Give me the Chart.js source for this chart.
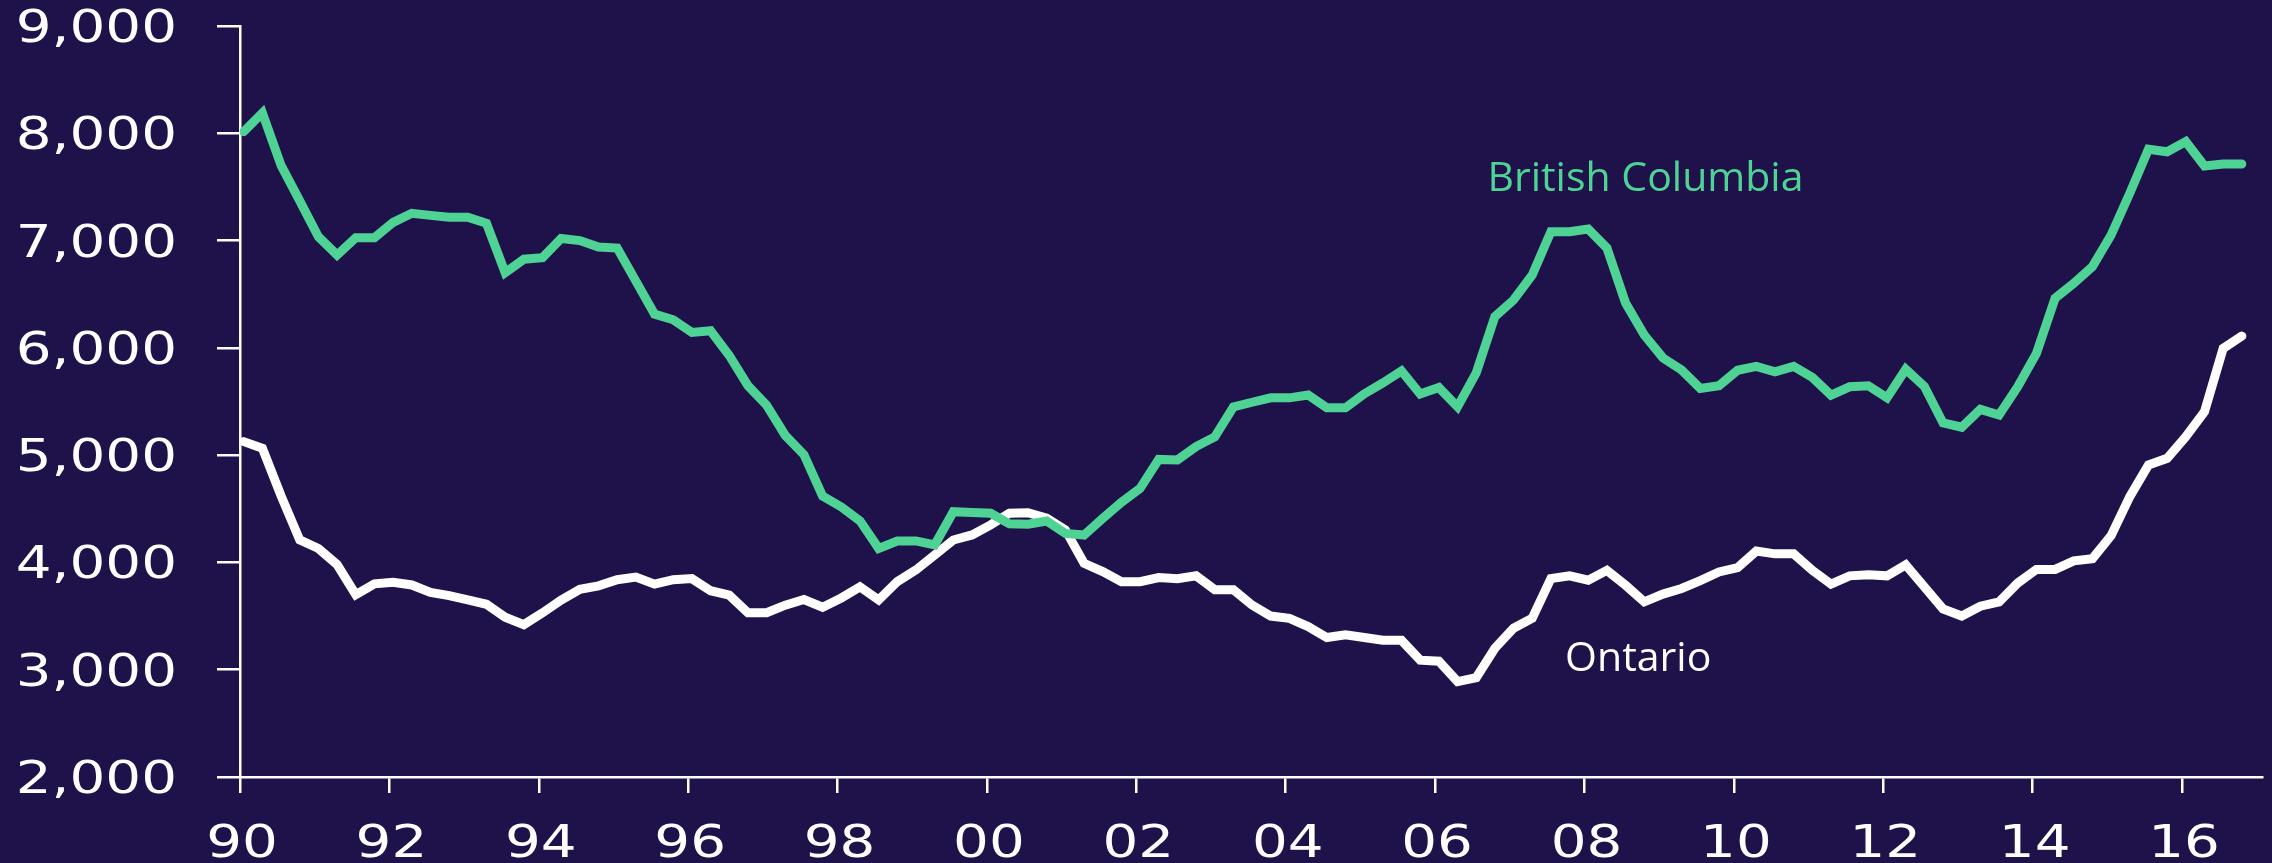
<!DOCTYPE html>
<html>
<head>
<meta charset="utf-8">
<script src="https://cdn.jsdelivr.net/npm/chart.js@4.4.1/dist/chart.umd.min.js"></script>
<style>
  html, body { margin: 0; padding: 0; background: #1F114A; overflow: hidden; }
  canvas { display: block; background: #1F114A; }
</style>
</head>
<body>
<canvas id="chart" width="2272" height="863"></canvas>
<script>
// ---- Data (quarterly, 1990Q1 .. 2016Q4) ----
const startYear = 1990;
const seriesNames = ['British Columbia', 'Ontario'];

const britishColumbia = [
  8015, 8190, 7700, 7370, 7036, 6866, 7027, 7027, 7170, 7254,
  7235, 7217, 7217, 7161, 6701, 6826, 6840, 7020, 7000, 6940,
  6930, 6622, 6314, 6262, 6144, 6160, 5929, 5647, 5466, 5184,
  5004, 4619, 4517, 4388, 4131, 4200, 4200, 4163, 4473, 4465,
  4458, 4360, 4356, 4386, 4270, 4255, 4410, 4560, 4690, 4960,
  4955, 5080, 5170, 5450, 5493, 5534, 5534, 5560, 5441, 5441,
  5570, 5673, 5785, 5570, 5630, 5450, 5766, 6291, 6446, 6679,
  7083, 7083, 7108, 6931, 6418, 6120, 5906, 5794, 5621, 5647,
  5791, 5827, 5776, 5827, 5724, 5560, 5637, 5647, 5534, 5801,
  5640, 5300, 5260, 5427, 5374, 5638, 5949, 6462, 6602, 6757,
  7052, 7441, 7851, 7828, 7922, 7695, 7714, 7714
];

const ontario = [
  5126, 5064, 4620, 4210, 4130, 3980, 3700, 3800, 3815, 3790,
  3720, 3690, 3650, 3610, 3490, 3420, 3530, 3650, 3750, 3782,
  3839, 3864, 3798, 3839, 3849, 3736, 3695, 3531, 3531, 3602,
  3654, 3582, 3669, 3772, 3650, 3821, 3930, 4070, 4209, 4256,
  4350, 4458, 4464, 4412, 4303, 3992, 3914, 3821, 3821, 3859,
  3849, 3875, 3746, 3746, 3602, 3500, 3479, 3402, 3300, 3325,
  3300, 3274, 3274, 3089, 3079, 2889, 2925, 3200, 3387, 3480,
  3849, 3875, 3834, 3926, 3787, 3633, 3705, 3757, 3830, 3911,
  3952, 4106, 4080, 4080, 3926, 3798, 3875, 3885, 3875, 3977,
  3772, 3567, 3500, 3592, 3633, 3808, 3935, 3935, 4015, 4035,
  4250, 4613, 4908, 4970, 5172, 5405, 5995, 6110
];

const xTickYears = [1990, 1992, 1994, 1996, 1998, 2000, 2002, 2004, 2006, 2008, 2010, 2012, 2014, 2016];
const yTickValues = [2000, 3000, 4000, 5000, 6000, 7000, 8000, 9000];

// label anchor points for the series names, in data units [year, value]
const seriesLabelAnchors = [[2006.70, 7462], [2007.74, 2988]];

// ---- Styling ----
const BG = '#1F114A';
const GREEN = '#4ED394';
const WHITE = '#FFFFFF';
const POINT_OFFSET = 0.05; // points sit slightly after the start of each quarter

const toPoints = arr => arr.map((v, i) => ({ x: startYear + i / 4 + POINT_OFFSET, y: v }));
const fmtY = v => v.toLocaleString('en-US');
const fmtX = v => String(v % 100).padStart(2, '0');

const labelsPlugin = {
  id: 'stretchedLabels',
  afterDraw(chart) {
    const { ctx, scales: { x, y } } = chart;
    ctx.save();
    ctx.fillStyle = WHITE;
    ctx.font = '44px "DejaVu Sans"';
    ctx.textBaseline = 'alphabetic';
    // y tick labels
    ctx.textAlign = 'right';
    y.ticks.forEach(t => {
      const py = y.getPixelForValue(t.value);
      ctx.save();
      ctx.translate(y.right - 63, py + 16);
      ctx.scale(1.28, 1);
      ctx.fillText(fmtY(t.value), 0, 0);
      ctx.restore();
    });
    // x tick labels
    ctx.textAlign = 'center';
    x.ticks.forEach(t => {
      const px = x.getPixelForValue(t.value);
      ctx.save();
      ctx.translate(px + 2, x.top + 80);
      ctx.scale(1.28, 1);
      ctx.fillText(fmtX(t.value), 0, 0);
      ctx.restore();
    });
    // series labels
    ctx.font = '41px "Open Sans"';
    ctx.textAlign = 'left';
    const colors = [GREEN, WHITE];
    seriesNames.forEach((name, k) => {
      const [ax, ay] = seriesLabelAnchors[k];
      ctx.fillStyle = colors[k];
      ctx.fillText(name, x.getPixelForValue(ax), y.getPixelForValue(ay));
    });
    ctx.restore();
  }
};

new Chart(document.getElementById('chart'), {
  type: 'line',
  data: {
    datasets: [
      {
        label: seriesNames[0],
        data: toPoints(britishColumbia),
        borderColor: GREEN,
        backgroundColor: GREEN,
        borderWidth: 9,
        pointRadius: 0,
        tension: 0,
        borderCapStyle: 'round',
        borderJoinStyle: 'miter'
      },
      {
        label: seriesNames[1],
        data: toPoints(ontario),
        borderColor: WHITE,
        backgroundColor: WHITE,
        borderWidth: 9,
        pointRadius: 0,
        tension: 0,
        borderCapStyle: 'round',
        borderJoinStyle: 'miter'
      }
    ]
  },
  options: {
    responsive: false,
    devicePixelRatio: 1,
    animation: false,
    layout: { padding: { left: 0, top: 26, right: 10, bottom: 0 } },
    plugins: { legend: { display: false }, tooltip: { enabled: false } },
    scales: {
      x: {
        type: 'linear',
        min: 1990,
        max: 2017.07,
        afterBuildTicks: s => { s.ticks = xTickYears.map(v => ({ value: v })); },
        afterFit: s => { s.height = 86; },
        ticks: { display: false },
        grid: { drawOnChartArea: false, drawTicks: true, tickLength: 16, color: WHITE, lineWidth: 2.5 },
        border: { display: true, color: WHITE, width: 2.5 }
      },
      y: {
        type: 'linear',
        min: 2000,
        max: 9000,
        afterBuildTicks: s => { s.ticks = yTickValues.map(v => ({ value: v })); },
        afterFit: s => { s.width = 240; },
        ticks: { display: false },
        grid: { drawOnChartArea: false, drawTicks: true, tickLength: 23, color: WHITE, lineWidth: 2.5 },
        border: { display: true, color: WHITE, width: 2.5 }
      }
    }
  },
  plugins: [labelsPlugin]
});
</script>
</body>
</html>
